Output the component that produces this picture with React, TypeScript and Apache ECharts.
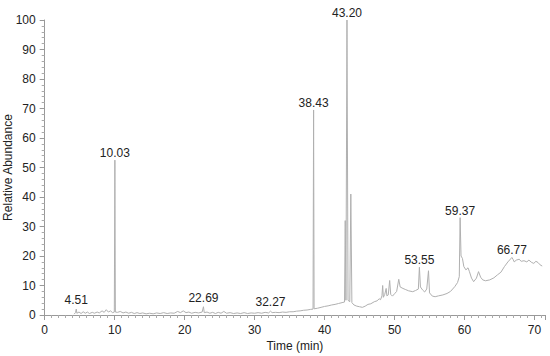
import React, { useEffect, useRef } from "react";
import * as echarts from "echarts";

// Retention times (min) and relative abundances
const times: number[] = [
  4.2, 4.4, 4.51, 4.6, 4.9, 5.2, 5.5, 5.8, 6.1, 6.4, 6.8, 7.1, 7.5, 7.8, 8.2, 8.5, 8.8, 9.1, 9.4, 9.7, 9.95,
  10.03, 10.1, 10.4, 10.8, 11.2, 11.6, 12.0, 12.4, 12.8, 13.2, 13.6, 14.0, 14.5, 15.0, 15.5, 16.0, 16.5,
  17.0, 17.5, 18.0, 18.5, 19.0, 19.4, 19.8, 20.2, 20.6, 21.0, 21.5, 22.0, 22.5, 22.69, 22.8, 23.2, 23.6,
  24.0, 24.4, 24.8, 25.2, 25.6, 26.0, 26.5, 27.0, 27.5, 28.0, 28.5, 29.0, 29.5, 30.0, 30.5, 31.0, 31.5,
  32.0, 32.27, 32.5, 33.0, 33.5, 34.0, 34.5, 35.0, 35.5, 36.0, 36.5, 37.0, 37.5, 38.0, 38.35, 38.43, 38.5,
  39.0, 39.5, 40.0, 40.5, 41.0, 41.5, 42.0, 42.5, 42.85, 42.95, 43.05, 43.2, 43.35, 43.6, 43.75, 43.9,
  44.2, 44.6, 45.0, 45.4, 45.8, 46.2, 46.6, 47.1, 47.5, 47.8, 48.0, 48.2, 48.3, 48.4, 48.6, 48.8, 48.9,
  49.1, 49.3, 49.45, 49.7, 50.0, 50.3, 50.6, 50.8, 51.2, 51.6, 52.0, 52.6, 53.0, 53.4, 53.55, 53.7, 54.0,
  54.3, 54.6, 54.85, 55.0, 55.4, 55.8, 56.3, 56.9, 57.5, 58.0, 58.6, 59.0, 59.25, 59.37, 59.5, 59.7, 59.9,
  60.2, 60.5, 60.7, 61.0, 61.3, 61.7, 62.0, 62.3, 62.6, 63.0, 63.6, 64.2, 64.7, 65.2, 65.7, 66.2, 66.77,
  66.95, 67.1, 67.4, 67.8, 68.1, 68.5, 68.9, 69.2, 69.6, 69.9, 70.2, 70.5, 70.8, 71.1,
];
const abundance: number[] = [
  0.3, 0.8, 2.0, 0.6, 1.0, 0.5, 1.1, 0.6, 1.0, 0.5, 0.9, 0.6, 1.0, 0.7, 1.4, 0.9, 1.8, 1.0, 1.4, 0.8, 1.0,
  52.5, 1.0, 0.9, 1.2, 0.7, 1.0, 0.6, 0.9, 0.5, 0.8, 0.5, 0.7, 0.4, 0.6, 0.4, 0.7, 0.5,
  0.8, 0.5, 0.7, 0.6, 1.2, 0.8, 1.4, 0.8, 1.0, 0.6, 0.9, 0.7, 1.0, 2.8, 0.8, 1.0, 0.6,
  0.9, 0.5, 0.9, 0.6, 1.2, 0.6, 0.8, 0.5, 0.7, 0.5, 0.8, 0.5, 0.7, 0.6, 0.8, 0.6, 0.9,
  0.7, 1.3, 0.8, 0.9, 0.8, 1.0, 0.9, 1.1, 1.1, 1.3, 1.4, 1.6, 1.7, 1.9, 2.0, 69.5, 2.1,
  2.3, 2.6, 2.9, 3.1, 3.4, 3.6, 3.9, 4.2, 4.4, 32, 5, 100, 5, 4.5, 41, 4.2,
  3.4, 3.0, 2.8, 2.6, 3.0, 3.6, 3.8, 4.5, 4.8, 5.5, 5.2, 6.5, 10.0, 6.0, 7.0, 9.0, 6.5,
  6.8, 11.7, 7.0, 6.4, 7.2, 8.0, 12.1, 9.5, 9.0, 8.6, 8.2, 7.9, 8.3, 8.8, 16.2, 9.5, 8.5,
  7.8, 8.8, 15.0, 7.5, 6.4, 6.2, 6.5, 6.8, 7.3, 8.0, 9.6, 11.0, 13, 33, 20, 19.2, 16.4,
  15.3, 16.0, 14.7, 12.5, 11.3, 12.5, 14.7, 12.8, 11.9, 11.6, 11.9, 12.6, 13.6, 14.5, 16.4, 18.0, 19.5,
  18.8, 18.0, 18.6, 18.9, 18.2, 18.4, 18.0, 18.6, 17.8, 17.5, 18.2, 17.8, 17.0, 16.6,
];
// Annotated peaks (retention times)
const peakLabels: string[] = ["4.51", "10.03", "22.69", "32.27", "38.43", "43.20", "53.55", "59.37", "66.77"];
const xTickLabels: number[] = [0, 10, 20, 30, 40, 50, 60, 70];
const yTickLabels: number[] = [0, 10, 20, 30, 40, 50, 60, 70, 80, 90, 100];

const FONT = "Liberation Sans, Arial, sans-serif";

export default function App() {
  const ref = useRef<HTMLDivElement>(null);
  useEffect(() => {
    if (!ref.current) return;
    const chart = echarts.init(ref.current, null, { renderer: "svg" });
    const labelTimes = peakLabels.map((s) => parseFloat(s));
    const data = times.map((t, i) => {
      const idx = labelTimes.findIndex((lt) => Math.abs(lt - t) < 1e-6);
      if (idx >= 0) {
        return {
          value: [t, abundance[i]],
          label: {
            show: true,
            position: "top",
            distance: idx === 0 || idx === 2 || idx === 3 ? 3 : 1,
            formatter: peakLabels[idx],
            color: "#222",
            fontSize: 12,
            fontFamily: FONT,
          },
        };
      }
      return { value: [t, abundance[i]] };
    });
    chart.setOption({
      animation: false,
      backgroundColor: "#fff",
      grid: {
        left: 44.7,
        right: 5,
        top: 20,
        bottom: 41,
        containLabel: false,
        outerBoundsMode: "none",
      },
      xAxis: {
        type: "value",
        min: xTickLabels[0],
        max: 71.5,
        interval: 10,
        name: "Time (min)",
        nameLocation: "middle",
        nameGap: 25,
        nameMoveOverlap: false,
        nameTextStyle: { color: "#222", fontSize: 12, fontFamily: FONT },
        axisLine: { show: true, lineStyle: { color: "#999", width: 1 } },
        axisTick: { show: true, length: 5, lineStyle: { color: "#999" } },
        minorTick: { show: true, splitNumber: 10, length: 3, lineStyle: { color: "#aaa" } },
        axisLabel: { color: "#222", fontSize: 12, fontFamily: FONT, margin: 9, showMaxLabel: false },
        splitLine: { show: false },
        minorSplitLine: { show: false },
      },
      yAxis: {
        type: "value",
        min: yTickLabels[0],
        max: yTickLabels[yTickLabels.length - 1],
        interval: 10,
        name: "Relative Abundance",
        nameLocation: "middle",
        nameGap: 31,
        nameMoveOverlap: false,
        nameTextStyle: { color: "#222", fontSize: 12, fontFamily: FONT },
        axisLine: { show: true, lineStyle: { color: "#999", width: 1 } },
        axisTick: { show: true, length: 5, lineStyle: { color: "#999" } },
        minorTick: { show: true, splitNumber: 5, length: 3, lineStyle: { color: "#aaa" } },
        axisLabel: { color: "#222", fontSize: 12, fontFamily: FONT, margin: 9 },
        splitLine: { show: false },
        minorSplitLine: { show: false },
      },
      series: [
        {
          type: "line",
          data,
          showSymbol: true,
          showAllSymbol: true,
          symbol: "circle",
          symbolSize: 0,
          itemStyle: { color: "#b0b0b0" },
          lineStyle: { color: "#b0b0b0", width: 1 },
          clip: false,
          silent: true,
          labelLayout: { hideOverlap: false },
        },
      ],
    });
    return () => chart.dispose();
  }, []);
  return (
    <div
      ref={ref}
      style={{ position: "fixed", left: 0, top: 0, width: 550, height: 356, background: "#fff" }}
    />
  );
}
